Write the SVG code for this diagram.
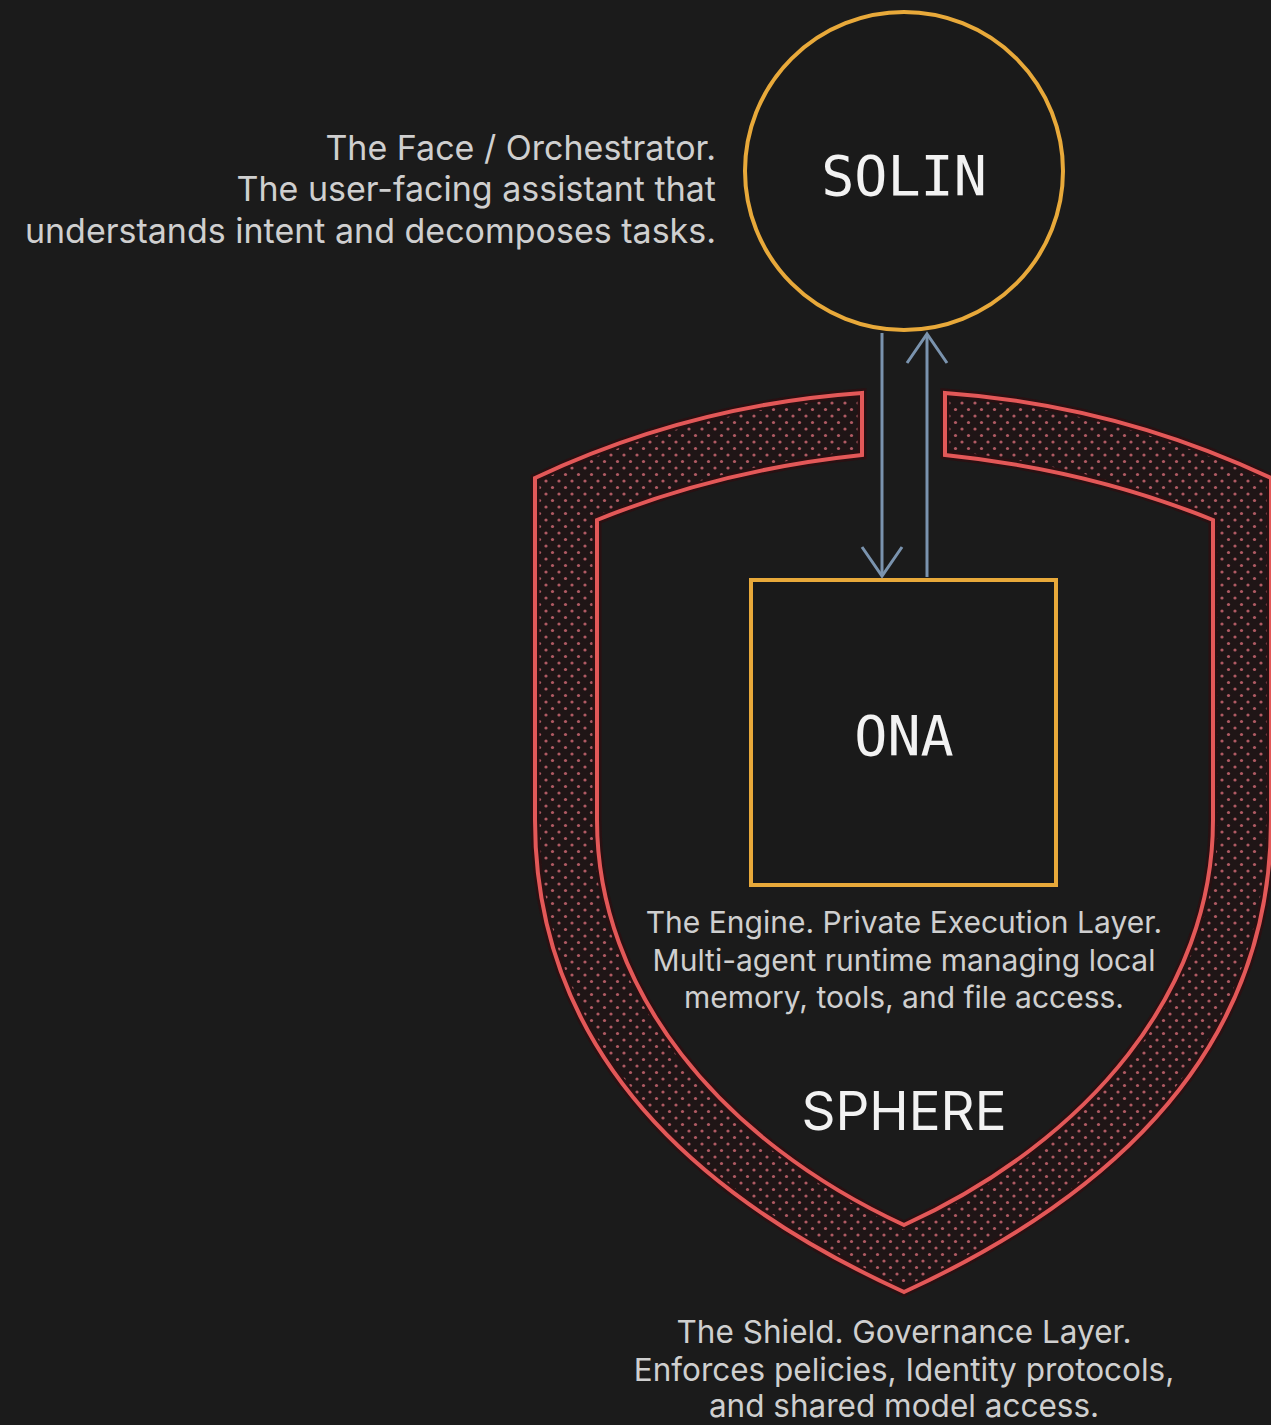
<svg xmlns="http://www.w3.org/2000/svg" width="1271" height="1425" viewBox="0 0 1271 1425">
  <defs>
    <style>
      .desc { font-family: "Inter", "Liberation Sans", sans-serif; font-size: 30px; fill: #cfcfcf; }
      .left { font-size: 34px; text-anchor: end; }
      .shield { font-size: 31.5px; text-anchor: middle; }
      .engine { text-anchor: middle; }
      .mono { font-family: "DejaVu Sans Mono", "Liberation Mono", monospace; font-size: 55px; fill: #f2f2f2; text-anchor: middle; }
      .title { font-family: "Inter", "Liberation Sans", sans-serif; font-size: 53px; fill: #f2f2f2; text-anchor: middle; }
      .node-stroke { fill: #1a1a1a; stroke: #e8a93a; stroke-width: 4; }
      .conn { stroke: #7a93ae; stroke-width: 3; fill: none; }
    </style>
    <pattern id="dots" width="13" height="13" patternUnits="userSpaceOnUse">
      <rect width="13" height="13" fill="#1f1516"/>
      <circle cx="0" cy="0" r="1.6" fill="#b05a63"/>
      <circle cx="13" cy="0" r="1.6" fill="#b05a63"/>
      <circle cx="0" cy="13" r="1.6" fill="#b05a63"/>
      <circle cx="13" cy="13" r="1.6" fill="#b05a63"/>
      <circle cx="6.5" cy="6.5" r="1.6" fill="#b05a63"/>
    </pattern>
    <marker id="chev" markerUnits="userSpaceOnUse" markerWidth="34" markerHeight="44" refX="31" refY="21" orient="auto" overflow="visible">
      <path d="M2,1 L31,21 L2,41" fill="none" stroke="#7a93ae" stroke-width="3"/>
    </marker>
  </defs>
  <rect width="1271" height="1425" fill="#1b1b1b"/>

  <g id="sphere">
    <path d="M862,393 Q690,405 535,478 L535,820 C535,1040 680,1190 904,1292 C1126,1190 1271,1040 1271,820 L1271,478 Q1116,405 945,393 L945,455 Q1090,470 1213,520 L1213,820 C1213,990 1090,1140 904,1225 C720,1140 597,990 597,820 L597,520 Q720,470 862,455 Z" fill="url(#dots)" stroke="#2a1012" stroke-width="9" stroke-linejoin="miter"/>
    <path d="M862,393 Q690,405 535,478 L535,820 C535,1040 680,1190 904,1292 C1126,1190 1271,1040 1271,820 L1271,478 Q1116,405 945,393 L945,455 Q1090,470 1213,520 L1213,820 C1213,990 1090,1140 904,1225 C720,1140 597,990 597,820 L597,520 Q720,470 862,455 Z" fill="none" stroke="#e35858" stroke-width="4" stroke-linejoin="miter"/>
    <text class="title" x="904" y="1130">SPHERE</text>
    <text class="desc shield" x="904" y="1343">The Shield. Governance Layer.</text>
    <text class="desc shield" x="904" y="1381">Enforces pelicies, Identity protocols,</text>
    <text class="desc shield" x="904" y="1417">and shared model access.</text>
  </g>

  <g id="solin">
    <circle class="node-stroke" cx="904" cy="171" r="159"/>
    <text class="mono" x="904" y="195">SOLIN</text>
    <text class="desc left" x="716" y="160">The Face / Orchestrator.</text>
    <text class="desc left" x="716" y="201">The user-facing assistant that</text>
    <text class="desc left" x="716" y="243">understands intent and decomposes tasks.</text>
  </g>

  <g id="ona">
    <rect class="node-stroke" x="751" y="580" width="305" height="305"/>
    <text class="mono" x="904" y="755">ONA</text>
    <text class="desc engine" x="904" y="933">The Engine. Private Execution Layer.</text>
    <text class="desc engine" x="904" y="971">Multi-agent runtime managing local</text>
    <text class="desc engine" x="904" y="1008">memory, tools, and file access.</text>
  </g>

  <g id="connectors">
    <line class="conn" x1="882" y1="333" x2="882" y2="576" marker-end="url(#chev)"/>
    <line class="conn" x1="927" y1="577" x2="927" y2="334" marker-end="url(#chev)"/>
  </g>
</svg>
